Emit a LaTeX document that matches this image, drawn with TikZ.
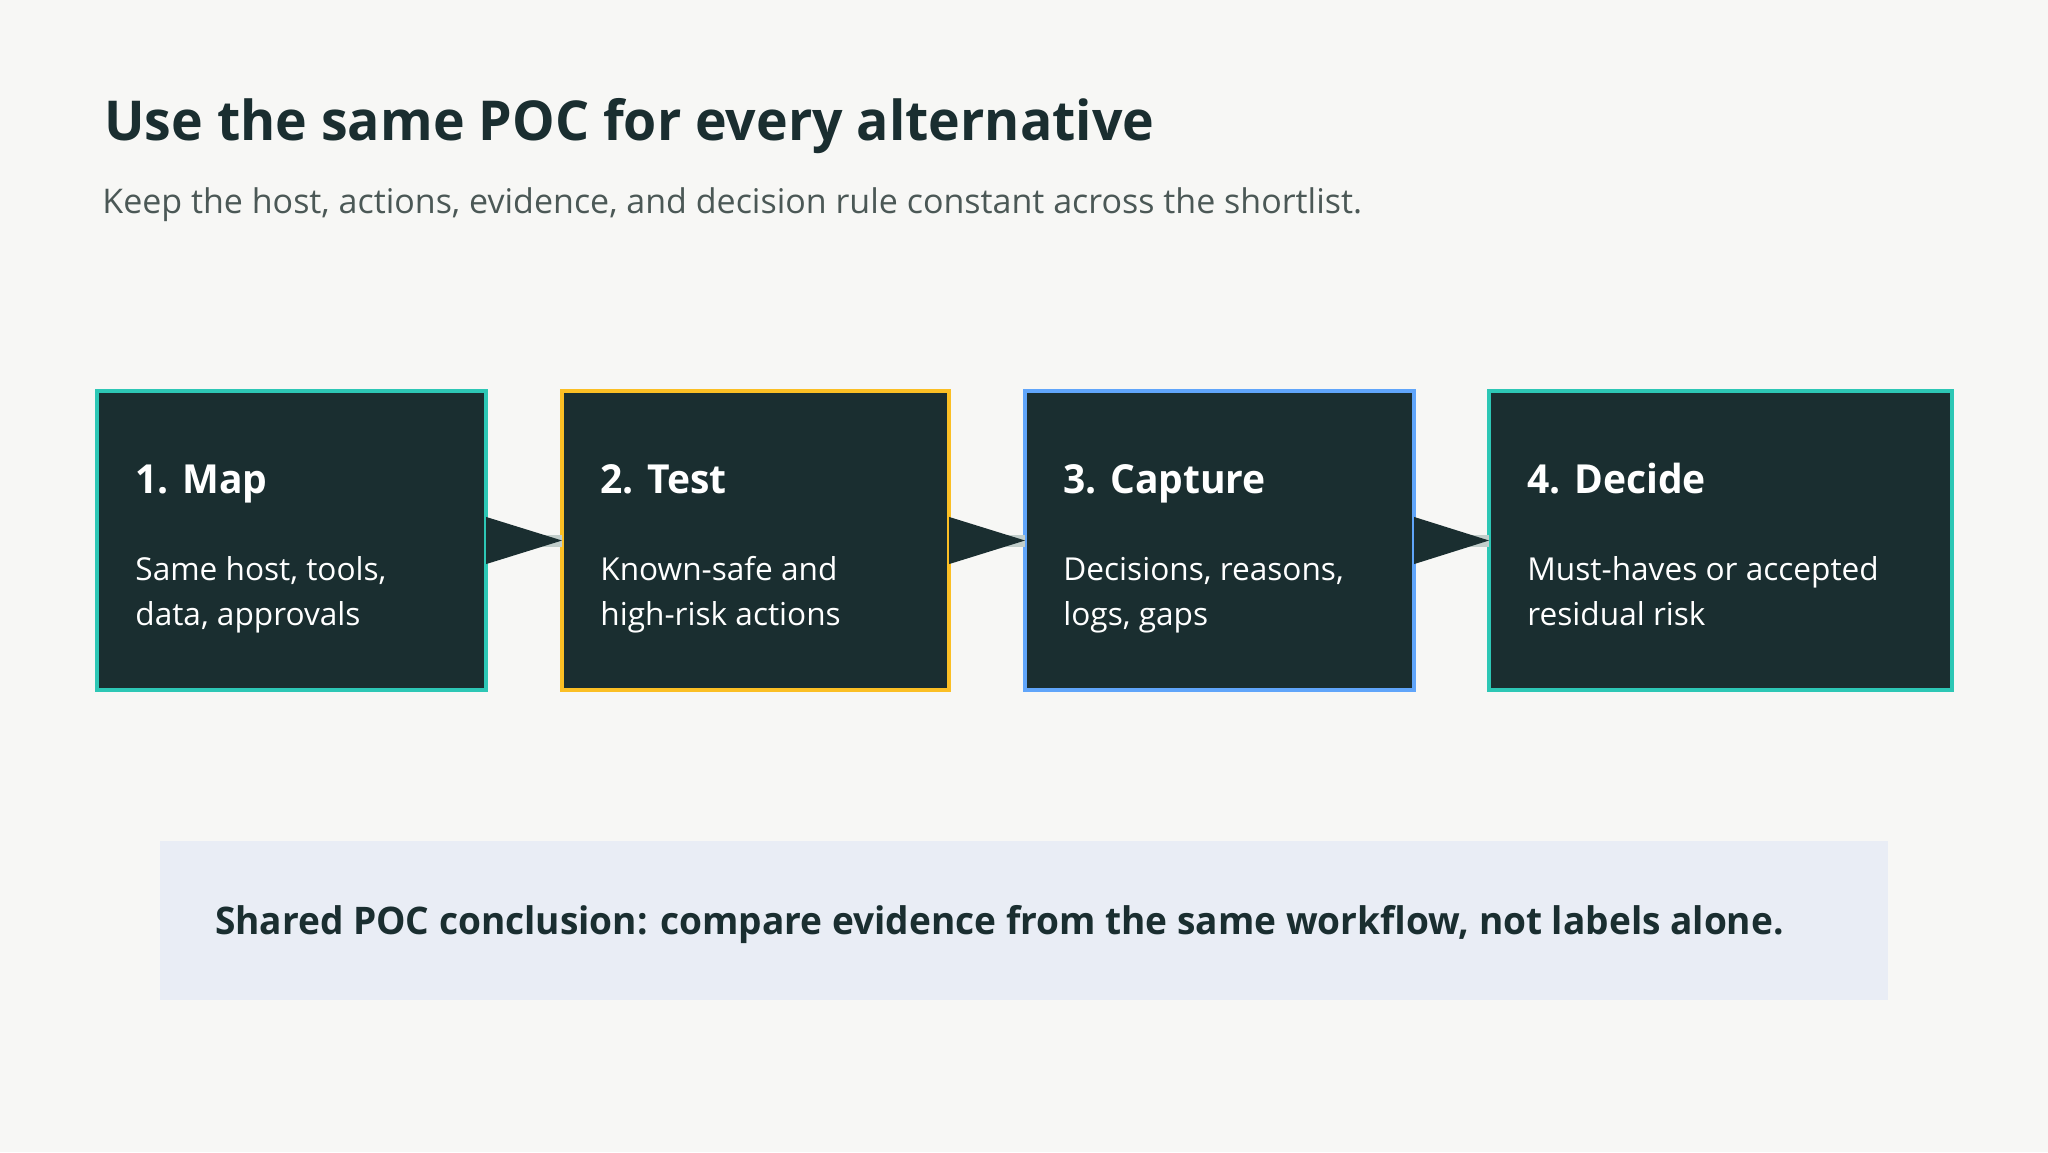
\documentclass[tikz,border=0pt]{standalone}
\usepackage{fontspec}
\setmainfont{Open Sans}[BoldFeatures={FakeStretch=0.975}]
\definecolor{pagebg}{HTML}{F7F7F5}
\definecolor{ink}{HTML}{1A2E30}
\definecolor{subink}{HTML}{4B5856}
\definecolor{bandbg}{HTML}{E9EDF5}
\definecolor{lineg}{HTML}{C2CECB}
\definecolor{tealedge}{HTML}{2DC7B5}
\definecolor{amberedge}{HTML}{FBBF24}
\definecolor{blueedge}{HTML}{60A5FA}
\tikzset{
  stepbox/.style={fill=ink, line width=2pt, minimum height=149.5pt, inner sep=0pt, outer sep=0pt},
  steptitle/.style={anchor=base west, inner sep=0pt, text=white, font=\bfseries\fontsize{20}{24}\selectfont},
  steptext/.style={anchor=base west, inner sep=0pt, text=white, align=left, font=\fontsize{15.8}{22.5}\selectfont},
  flowline/.style={draw=lineg, line width=6pt},
  flowhead/.style={fill=ink},
}
\begin{document}
\begin{tikzpicture}[x=0.5pt,y=-0.5pt]
\fill[pagebg] (0,0) rectangle (2048,1152);
\node[anchor=base west, inner sep=0pt, text=ink, font=\bfseries\fontsize{27.5}{33}\selectfont] (title) at (104,140) {Use the same POC for every alternative};
\node[anchor=base west, inner sep=0pt, text=subink, font=\fontsize{17}{21}\selectfont] (subtitle) at (102,213) {Keep the host, actions, evidence, and decision rule constant across the shortlist.};
% the four steps
\node[stepbox, draw=tealedge, minimum width=194.5pt] (map) at (291.5,540.5) {};
\node[stepbox, draw=amberedge, minimum width=193.5pt] (test) at (755.5,540.5) {};
\node[stepbox, draw=blueedge, minimum width=194.5pt] (capture) at (1219.5,540.5) {};
\node[stepbox, draw=tealedge, minimum width=231.5pt] (decide) at (1720.5,540.5) {};
\node[steptitle] (maptitle) at ([xshift=19pt,yshift=-51pt]map.north west) {1. Map};
\node[steptext] (maptext) at ([xshift=19pt,yshift=-117pt]map.north west) {Same host, tools,\\data, approvals};
\node[steptitle] (testtitle) at ([xshift=19pt,yshift=-51pt]test.north west) {2. Test};
\node[steptext] (testtext) at ([xshift=19pt,yshift=-117pt]test.north west) {Known-safe and\\high-risk actions};
\node[steptitle] (capturetitle) at ([xshift=19pt,yshift=-51pt]capture.north west) {3. Capture};
\node[steptext] (capturetext) at ([xshift=19pt,yshift=-117pt]capture.north west) {Decisions, reasons,\\logs, gaps};
\node[steptitle] (decidetitle) at ([xshift=19pt,yshift=-51pt]decide.north west) {4. Decide};
\node[steptext] (decidetext) at ([xshift=19pt,yshift=-117pt]decide.north west) {Must-haves or accepted\\residual risk};
% arrows between steps
\foreach \a/\b in {map/test,capture/decide,test/capture}{
  \draw[flowline] (\a.east) -- (\b.west);
  \fill[flowhead] ([yshift=11.8pt]\a.east) -- (\b.west) -- ([yshift=-11.8pt]\a.east) -- cycle;
}
% conclusion band
\node[fill=bandbg, minimum width=864pt, minimum height=79.5pt, inner sep=0pt] (band) at (1024,920.5) {};
\node[anchor=base west, inner sep=0pt, text=ink, font=\bfseries\fontsize{19}{23}\selectfont] (bandtext) at ([xshift=27.5pt,yshift=-6.75pt]band.west) {Shared POC conclusion: compare evidence from the same workflow, not labels alone.};
\end{tikzpicture}
\end{document}
